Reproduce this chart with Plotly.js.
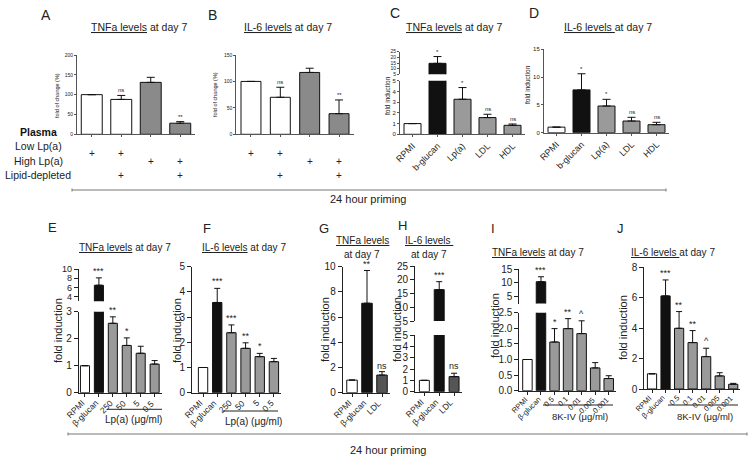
<!DOCTYPE html>
<html><head><meta charset="utf-8">
<script src="https://cdn.plot.ly/plotly-3.0.1.min.js"></script>
<style>body{margin:0;background:#fff}#chart{width:754px;height:464px}</style>
</head><body><div id="chart"></div>
<script>
// ================= DATA =================
// Panels A/B: plasma conditions
const abCats = ['c1', 'c2', 'c3', 'c4'];
const tnfA = [100, 88, 131, 28];
const tnfAErr = [0, 10, 12.7, 4];
const tnfASig = ['', 'ns', '', '**'];
const il6B = [100, 70, 117, 39];
const il6BErr = [0, 19, 8, 26];
const il6BSig = ['', 'ns', '', '**'];
const rowLabels = ['Plasma', 'Low Lp(a)', 'High Lp(a)', 'Lipid-depleted'];
const lowLp = [true, true, false, false];
const highLp = [false, false, true, true];
const lipidDepleted = [false, true, false, true];

// Panels C/D
const cdCats = ['RPMI', 'b-glucan', 'Lp(a)', 'LDL', 'HDL'];
const tnfC = [1, 14.7, 3.27, 1.56, 0.84];
const tnfCErr = [0, 6, 1.09, 0.31, 0.12];
const tnfCSig = ['', '*', '*', 'ns', 'ns'];
const il6D = [1, 7.7, 4.8, 2.1, 1.44];
const il6DErr = [0, 2.9, 1.2, 0.67, 0.43];
const il6DSig = ['', '*', '*', 'ns', 'ns'];

// Panels E/F
const efCats = ['RPMI', 'β-glucan', '250', '50', '5', '0.5'];
const tnfE = [1, 6.48, 2.57, 1.75, 1.46, 1.06];
const tnfEErr = [0, 1.6, 0.24, 0.28, 0.26, 0.13];
const tnfESig = ['', '***', '**', '*', '', ''];
const il6F = [1, 3.58, 2.38, 1.76, 1.43, 1.23];
const il6FErr = [0, 0.56, 0.31, 0.22, 0.13, 0.13];
const il6FSig = ['', '***', '***', '**', '*', ''];

// Panels G/H
const ghCats = ['RPMI', 'β-glucan', 'LDL'];
const tnfG = [1, 7.1, 1.4];
const tnfGErr = [0, 2.6, 0.27];
const tnfGSig = ['', '**', 'ns'];
const il6H = [1, 16.4, 1.33];
const il6HErr = [0, 2.9, 0.3];
const il6HSig = ['', '***', 'ns'];

// Panels I/J
const ijCats = ['RPMI', 'β-glucan', '0.5', '0.1', '0.01', '0.005', '0.001'];
const tnfI = [1, 10.4, 1.56, 1.99, 1.83, 0.73, 0.39];
const tnfIErr = [0, 1.8, 0.43, 0.32, 0.41, 0.17, 0.09];
const tnfISig = ['', '***', '*', '**', '^', '', ''];
const il6J = [1, 6.12, 3.99, 3.05, 2.13, 0.86, 0.31];
const il6JErr = [0, 1.05, 1.1, 0.79, 0.55, 0.21, 0.06];
const il6JSig = ['', '***', '**', '**', '^', '', ''];

// ================= LAYOUT HELPERS =================
const W = 754, H = 464;
const fx = x => x / W, fy = y => 1 - y / H;
const FONT = 'Liberation Sans, Arial, sans-serif';
const WHITE = '#ffffff', BLACK = '#111111', GRAY = '#9a9a9a', GRAY_AB = '#8a8a8a', DARK = '#555555';

const traces = [];
const layout = {
  width: W, height: H, margin: {l: 0, r: 0, t: 0, b: 0},
  showlegend: false, paper_bgcolor: '#fff', plot_bgcolor: 'rgba(0,0,0,0)',
  font: {family: FONT, color: '#222'},
  annotations: [], shapes: [], bargap: 0
};
let xCount = 0, yCount = 0;
function axName(kind, n) { return kind + (n === 1 ? '' : n); }

function addPanel(p) {
  xCount += 1;
  const xId = axName('x', xCount);
  const n = p.cats.length;
  const idx = p.cats.map((c, i) => i);
  const firstY = yCount + 1;
  const axColor = p.axColor || '#222';
  layout[axName('xaxis', xCount)] = {
    domain: [fx(p.x0), fx(p.x1)], anchor: axName('y', firstY), type: 'linear',
    range: [-p.pad, n - 0.5], tickvals: idx, ticktext: p.cats,
    showline: true, linecolor: axColor, linewidth: 1,
    ticks: 'outside', ticklen: p.xticklen || 3, tickcolor: axColor, tickwidth: 1,
    showticklabels: p.xlabels === 'axis', tickangle: -45,
    tickfont: {size: p.xfont || 9, color: '#222', family: FONT},
    showgrid: false, zeroline: false, fixedrange: true
  };
  // compact rotated category labels placed just under the axis
  if (p.xlabels === 'compact') {
    p.cats.forEach((c, i) => layout.annotations.push({
      xref: xId, yref: 'paper', x: i, y: fy(p.segs[0].bot + p.labelGap), text: c,
      textangle: -45, xanchor: 'right', yanchor: 'top', xshift: 3, showarrow: false,
      borderpad: 0, font: {size: p.xfont, color: '#222', family: FONT}
    }));
  }
  const segYIds = [];
  p.segs.forEach((s, si) => {
    yCount += 1;
    const yId = axName('y', yCount);
    segYIds.push({id: yId, range: s.range});
    layout[axName('yaxis', yCount)] = {
      domain: [fy(s.bot), fy(s.top)], anchor: xId, range: s.range,
      tickvals: s.tickvals, ticktext: s.ticktext,
      showline: true, linecolor: axColor, linewidth: 1,
      ticks: 'outside', ticklen: p.yticklen || 4, tickcolor: axColor, tickwidth: 1,
      tickfont: {size: s.font || p.yfont, color: '#222', family: FONT},
      showgrid: false, zeroline: false, fixedrange: true
    };
    // upper segments only show the bars that reach into them
    const yv = si === 0 ? p.vals : p.vals.map(v => (v > s.range[0] ? v : null));
    traces.push({
      type: 'bar', x: idx, y: yv, xaxis: xId, yaxis: yId, width: p.bw,
      marker: {color: p.colors, line: {color: BLACK, width: 1}},
      error_y: {type: 'data', symmetric: false, array: p.errs,
                arrayminus: p.errs.map(() => 0), color: BLACK, thickness: 1, width: p.capw || 3},
      hoverinfo: 'skip'
    });
  });
  // significance marks
  p.sig.forEach((t, i) => {
    if (!t) return;
    const top = p.vals[i] + p.errs[i];
    let seg = segYIds[0];
    segYIds.forEach(s => { if (top > s.range[0]) seg = s; });
    layout.annotations.push({
      xref: xId, yref: seg.id, x: i, y: top, text: t, showarrow: false,
      yanchor: 'bottom', yshift: p.sigShift === undefined ? 0 : p.sigShift,
      font: {size: p.sigFont, color: '#222', family: FONT}
    });
  });
  return xId;
}

function txt(x, y, text, size, opts) {
  layout.annotations.push(Object.assign({
    xref: 'paper', yref: 'paper', x: fx(x), y: fy(y), text: text, showarrow: false,
    xanchor: 'center', yanchor: 'middle', font: {size: size, color: '#222', family: FONT}
  }, opts || {}));
}
function line(x0, y0, x1, y1, color, w) {
  layout.shapes.push({type: 'line', xref: 'paper', yref: 'paper',
    x0: fx(x0), y0: fy(y0), x1: fx(x1), y1: fy(y1), line: {color: color || '#222', width: w || 1}});
}

// ================= PANELS =================
const xA = addPanel({cats: abCats, vals: tnfA, errs: tnfAErr, sig: tnfASig,
  colors: [WHITE, WHITE, GRAY_AB, GRAY_AB], x0: 77, x1: 195, pad: 0.5, bw: 0.71,
  segs: [{top: 55, bot: 134.3, range: [0, 200], tickvals: [0, 50, 100, 150, 200]}],
  yfont: 5, sigFont: 6, axColor: '#555', yticklen: 2, xticklen: 2, capw: 4});
const xB = addPanel({cats: abCats, vals: il6B, errs: il6BErr, sig: il6BSig,
  colors: [WHITE, WHITE, GRAY_AB, GRAY_AB], x0: 236.3, x1: 353.7, pad: 0.5, bw: 0.68,
  segs: [{top: 55, bot: 134.3, range: [0, 150], tickvals: [0, 50, 100, 150]}],
  yfont: 5, sigFont: 6, axColor: '#555', yticklen: 2, xticklen: 2, capw: 4});
addPanel({cats: cdCats, vals: tnfC, errs: tnfCErr, sig: tnfCSig,
  colors: [WHITE, BLACK, GRAY, GRAY, GRAY], x0: 400, x1: 525, pad: 0.5, bw: 0.68,
  segs: [{top: 80.7, bot: 134.3, range: [0, 5], tickvals: [0, 1, 2, 3, 4, 5]},
         {top: 51.7, bot: 74.3, range: [5, 25], tickvals: [5, 10, 15, 20, 25], font: 5}],
  yfont: 6, sigFont: 6, xlabels: 'axis', xfont: 9, axColor: '#555', yticklen: 2, xticklen: 2, capw: 4});
addPanel({cats: cdCats, vals: il6D, errs: il6DErr, sig: il6DSig,
  colors: [WHITE, BLACK, GRAY, GRAY, GRAY], x0: 544, x1: 669, pad: 0.5, bw: 0.68,
  segs: [{top: 49.3, bot: 132.7, range: [0, 15], tickvals: [0, 5, 10, 15]}],
  yfont: 6, sigFont: 6, xlabels: 'axis', xfont: 9, axColor: '#555', yticklen: 2, xticklen: 2, capw: 4});

addPanel({cats: efCats, vals: tnfE, errs: tnfEErr, sig: tnfESig,
  colors: [WHITE, BLACK, GRAY, GRAY, GRAY, GRAY], x0: 78.7, x1: 161.6, pad: 0.45, bw: 0.65,
  segs: [{top: 311.7, bot: 392.7, range: [0, 3], tickvals: [0, 1, 2, 3]},
         {top: 269, bot: 301.3, range: [3, 10], tickvals: [4, 6, 8, 10], font: 9}],
  yfont: 10, sigFont: 9, xlabels: 'compact', xfont: 8.5, labelGap: 4});
addPanel({cats: efCats, vals: il6F, errs: il6FErr, sig: il6FSig,
  colors: [WHITE, BLACK, GRAY, GRAY, GRAY, GRAY], x0: 192, x1: 281, pad: 0.78, bw: 0.66,
  segs: [{top: 266.7, bot: 392.7, range: [0, 5], tickvals: [0, 1, 2, 3, 4, 5]}],
  yfont: 10, sigFont: 9, xlabels: 'compact', xfont: 8.5, labelGap: 4});
addPanel({cats: ghCats, vals: tnfG, errs: tnfGErr, sig: tnfGSig,
  colors: [WHITE, BLACK, DARK], x0: 342.7, x1: 389.5, pad: 0.62, bw: 0.7,
  segs: [{top: 266.7, bot: 392.7, range: [0, 10], tickvals: [0, 2, 4, 6, 8, 10]}],
  yfont: 10, sigFont: 9, xlabels: 'compact', xfont: 8.5, labelGap: 4, sigShift: -1});
addPanel({cats: ghCats, vals: il6H, errs: il6HErr, sig: il6HSig,
  colors: [WHITE, BLACK, DARK], x0: 415, x1: 461.5, pad: 0.63, bw: 0.67,
  segs: [{top: 335, bot: 391.7, range: [0, 5], tickvals: [0, 1, 2, 3, 4, 5]},
         {top: 266, bot: 321, range: [5, 25], tickvals: [5, 10, 15, 20, 25]}],
  yfont: 10, sigFont: 9, xlabels: 'compact', xfont: 8.5, labelGap: 4});
addPanel({cats: ijCats, vals: tnfI, errs: tnfIErr, sig: tnfISig,
  colors: [WHITE, BLACK, GRAY, GRAY, GRAY, GRAY, GRAY], x0: 519.3, x1: 615.5, pad: 0.6, bw: 0.7,
  segs: [{top: 312.7, bot: 390.7, range: [0, 2.5], tickvals: [0, 0.5, 1, 1.5, 2, 2.5],
          ticktext: ['0.0', '0.5', '1.0', '1.5', '2.0', '2.5']},
         {top: 269, bot: 303.6, range: [2.5, 15], tickvals: [5, 10, 15]}],
  yfont: 10, sigFont: 9, xlabels: 'compact', xfont: 7.5, labelGap: 3});
addPanel({cats: ijCats, vals: il6J, errs: il6JErr, sig: il6JSig,
  colors: [WHITE, BLACK, GRAY, GRAY, GRAY, GRAY, GRAY], x0: 644.3, x1: 740, pad: 0.57, bw: 0.68,
  segs: [{top: 267.3, bot: 389, range: [0, 8], tickvals: [0, 2, 4, 6, 8]}],
  yfont: 10, sigFont: 9, xlabels: 'compact', xfont: 7.5, labelGap: 3});

// ================= TEXT: letters, titles, axis titles =================
const L = 14;
txt(46, 15, 'A', L); txt(212, 15, 'B', L); txt(395, 13, 'C', L); txt(534, 13, 'D', L);
txt(52, 227, 'E', 13); txt(207, 228, 'F', 13); txt(324, 228, 'G', 13);
txt(402, 226, 'H', 13); txt(493, 228, 'I', 13); txt(620, 228, 'J', 13);

txt(139, 27, '<u>TNFa levels</u> at day 7', 10.5);
txt(288, 27, '<u>IL-6 levels</u> at day 7', 10.5);
txt(454, 27, '<u>TNFa levels</u> at day 7', 10.5);
txt(608, 27, '<u>IL-6 levels </u>at day 7', 10.5);
txt(125, 248, '<u>TNFa levels</u> at day 7', 10);
txt(244, 248, '<u>IL-6 levels</u> at day 7', 10);
txt(362, 240, '<u>TNFa levels</u>', 10); txt(362, 254, 'at day 7', 10);
txt(429, 240, '<u>IL-6 levels </u>', 10); txt(429, 254, 'at day 7', 10);
txt(538, 253, '<u>TNFa levels</u> at day 7', 10);
txt(673, 253, '<u>IL-6 levels </u>at day 7', 10);

const rot = {textangle: -90};
txt(57, 95, 'fold of change (%)', 5.5, rot);
txt(215, 95, 'fold of change (%)', 5.5, rot);
txt(388, 96, 'fold induction', 6.5, rot);
txt(527, 85, 'fold induction', 6.5, rot);
txt(58, 331, 'fold induction', 11, rot);
txt(177, 331, 'fold induction', 11, rot);
txt(325, 330, 'fold induction', 11, rot);
txt(397, 330, 'fold induction', 11, rot);
txt(495, 325, 'fold induction', 11, rot);
txt(623, 328, 'fold induction', 11, rot);

// ================= A/B condition table =================
const rowY = [132, 146, 161, 175];
txt(38, rowY[0], rowLabels[0], 10.5, {font: {size: 10.5, color: '#111', family: FONT, weight: 'bold'}});
txt(38, rowY[1], rowLabels[1], 10.5); txt(38, rowY[2], rowLabels[2], 10.5); txt(38, rowY[3], rowLabels[3], 10.5);
[[lowLp, rowY[1]], [highLp, rowY[2]], [lipidDepleted, rowY[3]]].forEach(([flags, yy]) => {
  flags.forEach((f, i) => {
    if (!f) return;
    [xA, xB].forEach(xid => layout.annotations.push({xref: xid, yref: 'paper', x: i, y: fy(yy),
      text: '+', showarrow: false, font: {size: 10, color: '#222', family: FONT}}));
  });
});

// ================= group lines & priming bars =================
line(107, 409.3, 162, 409.3); txt(133, 419.5, 'Lp(a) (μg/ml)', 10);
line(223, 411, 278, 411); txt(253, 421, 'Lp(a) (μg/ml)', 10);
line(543, 405, 613, 405); txt(580, 416, '8K-IV (μg/ml)', 9.5);
line(668, 405, 738, 405); txt(705, 416, '8K-IV (μg/ml)', 9.5);

line(72, 190, 666, 190, '#777'); line(72, 188.5, 72, 191.5, '#777'); line(666, 188.5, 666, 191.5, '#777');
txt(368, 198.5, '24 hour priming', 11);
line(68, 434, 747, 434, '#777'); line(68, 432.5, 68, 435.5, '#777'); line(747, 432.5, 747, 435.5, '#777');
txt(388, 450, '24 hour priming', 11);

Plotly.newPlot('chart', traces, layout, {staticPlot: true, displayModeBar: false});
</script>
</body></html>
